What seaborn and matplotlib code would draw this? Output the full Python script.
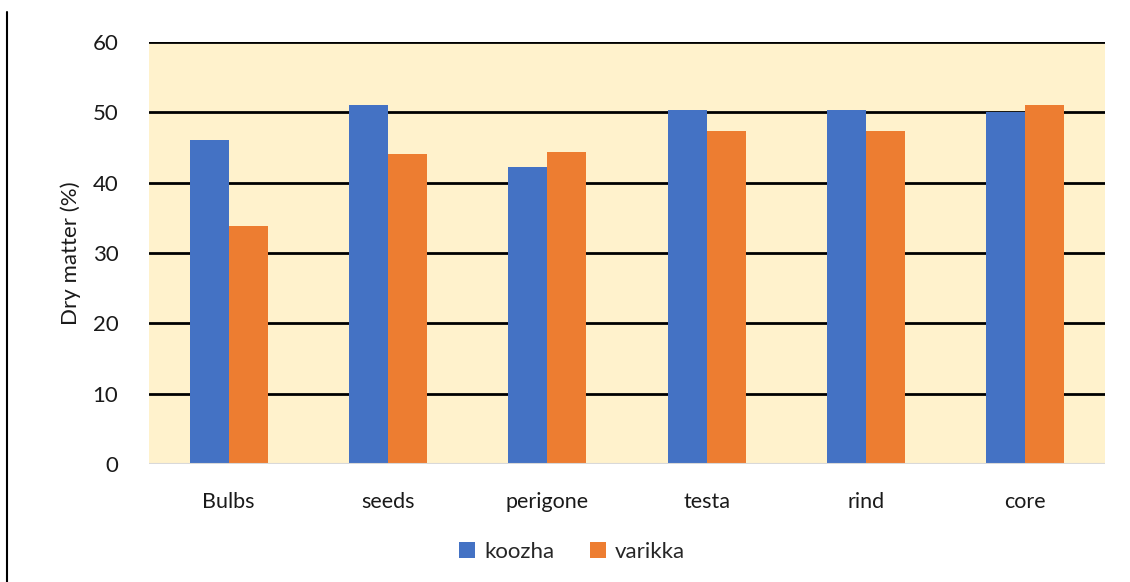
import matplotlib
matplotlib.use("Agg")
import matplotlib.pyplot as plt
from matplotlib.lines import Line2D
import seaborn as sns
import pandas as pd

categories = ["Bulbs", "seeds", "perigone", "testa", "rind", "core"]
koozha = [46.1, 51.1, 42.2, 50.4, 50.4, 50.1]
varikka = [33.9, 44.1, 44.4, 47.4, 47.4, 51.1]
series = ["koozha", "varikka"]
y_ticks = [0, 10, 20, 30, 40, 50, 60]

df = pd.DataFrame({
    "part": categories * 2,
    "variety": [series[0]] * len(categories) + [series[1]] * len(categories),
    "dry": koozha + varikka,
})

sns.set_theme(style="white")
plt.rcParams["font.family"] = ["Lato", "DejaVu Sans"]

fig = plt.figure(figsize=(11.3, 5.82), dpi=100)
ax = fig.add_axes([149 / 1130, 1 - 464 / 582, (1105 - 149) / 1130, (464 - 42) / 582])
ax.set_facecolor("#FFF2CC")

sns.barplot(data=df, x="part", y="dry", hue="variety", order=categories,
            hue_order=series, palette=["#4472C4", "#ED7D31"], width=0.49,
            gap=0, saturation=1, linewidth=0, errorbar=None, ax=ax)

ax.set_ylim(0, 60)
ax.set_xlim(-0.5, len(categories) - 0.5)
ax.set_yticks(y_ticks)
ax.set_yticklabels([str(t) for t in y_ticks], fontsize=16)
ax.tick_params(axis="y", pad=22, length=0, colors="#1a1a1a")
ax.tick_params(axis="x", pad=20, length=0, labelsize=15.5, colors="#1a1a1a")

for t in y_ticks[1:]:
    ax.axhline(t, color="black", lw=2, zorder=0.5)
ax.axhline(0, color="#D9D9D9", lw=1.5, zorder=3)

for s in ax.spines.values():
    s.set_visible(False)

ax.set_xlabel("")
ax.set_ylabel("Dry matter (%)", fontsize=16, color="#1a1a1a", labelpad=8)

handles, labels = ax.get_legend_handles_labels()
ax.get_legend().remove()
fig.legend(handles, labels, loc="center", bbox_to_anchor=(572 / 1130, 1 - 552 / 582),
           ncol=2, frameon=False, fontsize=16, handlelength=0.72, handleheight=0.72,
           handletextpad=0.4, columnspacing=1.6)

fig.add_artist(Line2D([6.5 / 1130, 6.5 / 1130], [0, 1 - 12 / 582],
                      color="black", lw=1.5, transform=fig.transFigure))

fig.savefig("out.png", dpi=100)
